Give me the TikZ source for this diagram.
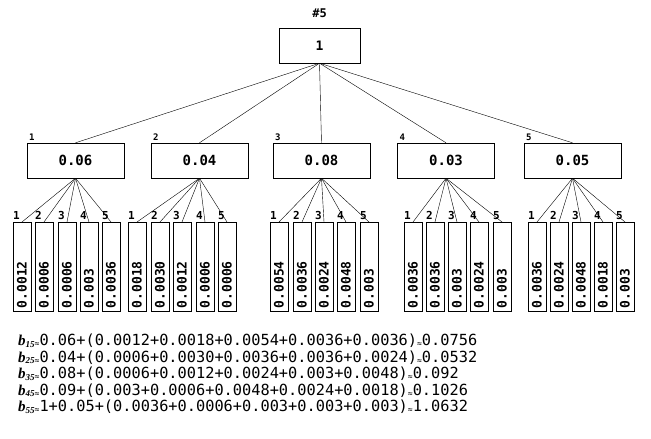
\documentclass[tikz,border=0pt]{standalone}
\usepackage{fontspec}
\setmainfont{Liberation Serif}
\setmonofont{DejaVu Sans Mono}
\usetikzlibrary{positioning,calc}

% b with its subscript and the small approx sign
\newcommand{\bsub}[1]{{\rmfamily\bfseries\itshape\fontsize{15}{15}\selectfont b\raisebox{-1.5pt}{\fontsize{9}{9}\selectfont #1}}{\fontsize{8}{8}\selectfont\raisebox{-1pt}{≈}}}
\newcommand{\sapprox}{{\fontsize{8}{8}\selectfont\raisebox{-1pt}{≈}}}

\tikzset{
  valbox/.style={draw, rectangle, minimum width=97pt, minimum height=35pt, inner sep=0pt,
    font=\ttfamily\bfseries\fontsize{14}{14}\selectfont},
  leafbox/.style={draw, rectangle, minimum width=18pt, minimum height=89pt, inner sep=0pt, anchor=north},
  leaftext/.style={rotate=90, anchor=west, inner sep=0pt, font=\ttfamily\bfseries\fontsize{13}{13}\selectfont},
  numlabel/.style={anchor=south west, inner sep=1pt, font=\ttfamily\bfseries\fontsize{9}{9}\selectfont},
  leaflabel/.style={anchor=south west, inner sep=1pt, font=\ttfamily\bfseries\fontsize{11}{11}\selectfont},
  formula/.style={anchor=west, inner sep=0pt, font=\ttfamily\fontsize{15.3}{15.3}\selectfont},
}

\begin{document}
\begin{tikzpicture}[x=1pt,y=-1pt]
  \useasboundingbox (0,0) rectangle (651,439);

  % Root node with its title
  \node[valbox, minimum width=81pt, font=\ttfamily\bfseries\fontsize{13}{13}\selectfont] (root) at (319.5,45.5) {1};
  \node[font=\ttfamily\bfseries\fontsize{12}{12}\selectfont, above=7pt of root] (title) {\#5};

  % Second level
  \node[valbox] (b1) at (75.5,160.5) {0.06};
  \node[valbox] (b2) at (199.5,160.5) {0.04};
  \node[valbox] (b3) at (321.5,160.5) {0.08};
  \node[valbox] (b4) at (446,160.5) {0.03};
  \node[valbox] (b5) at (572.5,160.5) {0.05};

  % Numbers above the second level
  \foreach \p/\n in {b1/1,b2/2,b3/3,b4/4,b5/5}
  {
    \node[numlabel] at ([xshift=1pt,yshift=1pt]\p.north west) {\n};
    \draw (root.south) -- (\p.north);
  }

  % Leaves
  \foreach \p/\n/\x/\v in {
    b1/1/13/0.0012, b1/2/35/0.0006, b1/3/58/0.0006, b1/4/80/0.003, b1/5/102/0.0036,
    b2/1/128/0.0018, b2/2/151/0.0030, b2/3/173/0.0012, b2/4/196/0.0006, b2/5/218/0.0006,
    b3/1/270/0.0054, b3/2/293/0.0036, b3/3/315/0.0024, b3/4/337/0.0048, b3/5/360/0.003,
    b4/1/404/0.0036, b4/2/426/0.0036, b4/3/448/0.003, b4/4/470/0.0024, b4/5/493/0.003,
    b5/1/528/0.0036, b5/2/550/0.0024, b5/3/572/0.0048, b5/4/594/0.0018, b5/5/616/0.003}
  {
    \node[leafbox] (\p-\n) at (\x+9,222) {};
    \node[leaftext] at ([yshift=3pt]\p-\n.south) {\v};
    \node[leaflabel] at ([xshift=-1pt,yshift=1pt]\p-\n.north west) {\n};
    \draw (\p.south) -- (\p-\n.north);
  }

  % Sums
  \node[formula] (f1) at (18,341) {\bsub{15}0.06+(0.0012+0.0018+0.0054+0.0036+0.0036)\sapprox0.0756};
  \node[formula] (f2) at (18,357.5) {\bsub{25}0.04+(0.0006+0.0030+0.0036+0.0036+0.0024)\sapprox0.0532};
  \node[formula] (f3) at (18,374) {\bsub{35}0.08+(0.0006+0.0012+0.0024+0.003+0.0048)\sapprox0.092};
  \node[formula] (f4) at (18,390.5) {\bsub{45}0.09+(0.003+0.0006+0.0048+0.0024+0.0018)\sapprox0.1026};
  \node[formula] (f5) at (18,407) {\bsub{55}1+0.05+(0.0036+0.0006+0.003+0.003+0.003)\sapprox1.0632};
\end{tikzpicture}
\end{document}
